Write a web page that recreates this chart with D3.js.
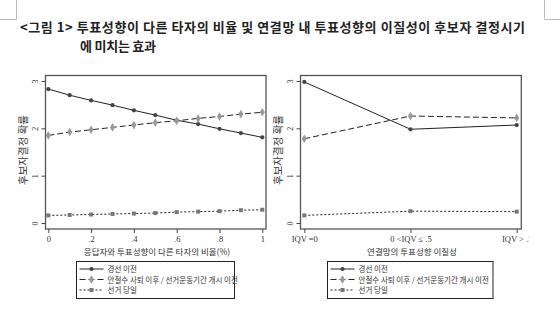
<!DOCTYPE html>
<html>
<head>
<meta charset="utf-8">
<script src="https://cdn.jsdelivr.net/npm/d3@7"></script>
<style>
  body { margin:0; background:#fff; }
  svg { display:block; }
</style>
</head>
<body>
<script>
// data
var shares      = [0, .1, .2, .3, .4, .5, .6, .7, .8, .9, 1];
var shareTicks  = [0, .2, .4, .6, .8, 1];
var leftPrimary = [2.83, 2.70, 2.59, 2.49, 2.38, 2.28, 2.17, 2.09, 1.99, 1.90, 1.81];
var leftMid     = [1.85, 1.92, 1.97, 2.02, 2.07, 2.12, 2.16, 2.21, 2.25, 2.30, 2.34];
var leftDay     = [0.16, 0.17, 0.18, 0.19, 0.20, 0.21, 0.23, 0.24, 0.25, 0.27, 0.28];

var iqvCats      = ["IQV =0", "0 <IQV \u2264 .5", "IQV > .5"];
var rightPrimary = [2.98, 1.98, 2.07];
var rightMid     = [1.78, 2.26, 2.22];
var rightDay     = [0.16, 0.25, 0.24];

var yTicks = [0, 1, 2, 3];
var seriesNames = ["경선 이전", "안철수 사퇴 이후 / 선거운동기간 개시 이전", "선거 당일"];

var W = 560, H = 329;
var KR = "'Noto Sans CJK KR', 'Noto Sans', sans-serif";
var SERIF = "'Liberation Serif', 'DejaVu Serif', serif";

var svg = d3.select("body").append("svg").attr("width", W).attr("height", H);

// page corner marks
svg.append("path").attr("d", "M0,19.5H16.5V0").attr("fill", "none").attr("stroke", "#bbb");
svg.append("path").attr("d", "M560,19.5H544.5V0").attr("fill", "none").attr("stroke", "#bbb");

// title
svg.append("text").attr("x", 20).attr("y", 32)
  .attr("font-family", KR).attr("font-size", 13).attr("font-weight", "bold").attr("fill", "#222")
  .attr("textLength", 505).attr("lengthAdjust", "spacing")
  .text("<그림 1> 투표성향이 다른 타자의 비율 및 연결망 내 투표성향의 이질성이 후보자 결정시기");
svg.append("text").attr("x", 80).attr("y", 51)
  .attr("font-family", KR).attr("font-size", 13).attr("font-weight", "bold").attr("fill", "#222")
  .attr("textLength", 76).attr("lengthAdjust", "spacing")
  .text("에 미치는 효과");

var styles = [
  {dash: null,  marker: "circle",  color: "#444"},
  {dash: "6,3", marker: "diamond", color: "#999"},
  {dash: "2,2", marker: "square",  color: "#777"}
];

var y = d3.scaleLinear().domain([0, 3]).range([223, 81]);

function drawMarker(g, type, cx, cy, color){
  var size = type == "diamond" ? 22 : type == "square" ? 16 : 14;
  var sym = type == "diamond" ? d3.symbolDiamond : type == "square" ? d3.symbolSquare : d3.symbolCircle;
  g.append("path").attr("d", d3.symbol().type(sym).size(size)())
    .attr("transform", "translate(" + cx + "," + cy + ")").attr("fill", color);
}

function drawPanel(opt){
  var g = svg.append("g");
  var x = opt.x;

  // plot frame
  g.append("rect").attr("x", opt.box[0]).attr("y", 75.5)
    .attr("width", opt.box[1] - opt.box[0]).attr("height", 229 - 75.5)
    .attr("fill", "none").attr("stroke", "#555").attr("stroke-width", 1.3);

  // y axis: ticks on the frame, labels rotated
  var yAxis = d3.axisLeft(y).tickValues(yTicks).tickSize(4).tickFormat(d3.format("d"));
  var ya = g.append("g").attr("transform", "translate(" + opt.box[0] + ",0)").call(yAxis);
  ya.select(".domain").remove();
  ya.selectAll("line").attr("stroke", "#444");
  ya.selectAll("text").attr("font-family", SERIF).attr("font-size", 8).attr("fill", "#333")
    .attr("text-anchor", "middle").attr("dy", 0).attr("x", 0).attr("y", 0)
    .attr("transform", "translate(-8,0) rotate(-90)");

  g.append("text")
    .attr("transform", "translate(" + (opt.box[0] - 19) + ",150) rotate(-90)")
    .attr("text-anchor", "middle").attr("font-family", KR).attr("font-size", 10.5).attr("fill", "#333")
    .text("후보자결정 확률");

  // x axis
  var xAxis = d3.axisBottom(x).tickSize(4).tickPadding(3);
  if(opt.ticks) xAxis.tickValues(opt.ticks).tickFormat(function(d){ return d == 0 || d == 1 ? d : d3.format(".1f")(d).replace(/^0/, ""); });
  var xa = g.append("g").attr("transform", "translate(0,229)").call(xAxis);
  xa.select(".domain").remove();
  xa.selectAll("line").attr("stroke", "#444");
  xa.selectAll("text").attr("font-family", SERIF).attr("font-size", 8.5).attr("fill", "#333");

  g.append("text").attr("x", opt.titleX).attr("y", 255).attr("text-anchor", "middle")
    .attr("font-family", KR).attr("font-size", 8.5).attr("fill", "#333").text(opt.xTitle);

  // series
  opt.series.forEach(function(vals, i){
    var st = styles[i];
    var line = d3.line().x(function(d, j){ return x(opt.xs[j]); }).y(function(d){ return y(d); });
    g.append("path").datum(vals).attr("d", line).attr("fill", "none")
      .attr("stroke", "#222").attr("stroke-width", 1).attr("stroke-dasharray", st.dash);
    vals.forEach(function(v, j){ drawMarker(g, st.marker, x(opt.xs[j]), y(v), st.color); });
  });

  // legend
  var lg = g.append("g");
  lg.append("rect").attr("x", opt.legend[0]).attr("y", 261.5)
    .attr("width", opt.legend[1] - opt.legend[0]).attr("height", 37)
    .attr("fill", "none").attr("stroke", "#222").attr("stroke-width", 1);
  seriesNames.forEach(function(name, i){
    var ly = 269 + i * 10.5, lx = opt.legend[0] + 3;
    lg.append("line").attr("x1", lx).attr("x2", lx + 24).attr("y1", ly).attr("y2", ly)
      .attr("stroke", "#222").attr("stroke-dasharray", styles[i].dash);
    drawMarker(lg, styles[i].marker, lx + 12, ly, styles[i].color);
    lg.append("text").attr("x", lx + 28).attr("y", ly + 3)
      .attr("font-family", KR).attr("font-size", 7.5).attr("fill", "#333").text(name);
  });
  return g;
}

drawPanel({
  x: d3.scaleLinear().domain([0, 1]).range([48.3, 262.3]),
  xs: shares, ticks: shareTicks, box: [45.5, 266],
  series: [leftPrimary, leftMid, leftDay],
  xTitle: "응답자와 투표성향이 다른 타자의 비율(%)", titleX: 157,
  legend: [76.5, 234.5]
});

svg.append("clipPath").attr("id", "edge").append("rect").attr("x", 0).attr("y", 0).attr("width", 529).attr("height", H);
drawPanel({
  x: d3.scalePoint().domain(iqvCats).range([304.3, 516.7]),
  xs: iqvCats, ticks: null, box: [300.5, 521.3],
  series: [rightPrimary, rightMid, rightDay],
  xTitle: "연결망의 투표성향 이질성", titleX: 412,
  legend: [327.5, 493]
}).attr("clip-path", "url(#edge)");
</script>
</body>
</html>
